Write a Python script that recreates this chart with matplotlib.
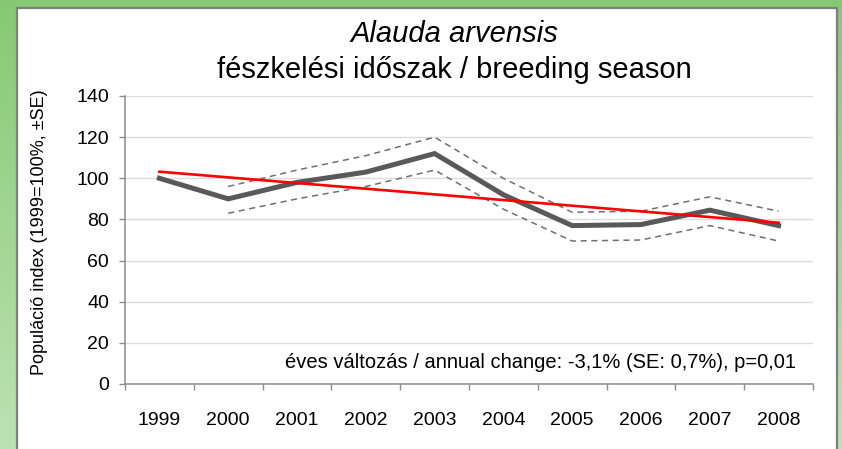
import matplotlib.pyplot as plt
import numpy as np
from matplotlib.patches import Rectangle
from matplotlib.colors import LinearSegmentedColormap

plt.rcParams['font.family'] = ['Liberation Sans', 'DejaVu Sans']

# data
years = ['1999', '2000', '2001', '2002', '2003', '2004', '2005', '2006', '2007', '2008']
index = [100, 90, 98, 103, 112, 92, 77, 77.5, 84.5, 77]
upper = [None, 96, 104, 111, 120, 100, 83.5, 84, 91, 84]
lower = [None, 83, 90, 96, 104, 85, 69.5, 70, 77, 69.5]
trend_start = 103.2
trend_end = 78.4
y_ticks = [0, 20, 40, 60, 80, 100, 120, 140]

W, H = 842, 449
fig = plt.figure(figsize=(W / 100, H / 100), dpi=100)

# green gradient frame behind the white panel
bg = fig.add_axes([0, 0, 1, 1], zorder=-10)
green = LinearSegmentedColormap.from_list('g', ['#86c974', '#bde2b3'])
bg.imshow(np.linspace(0, 1, 256).reshape(-1, 1), aspect='auto', cmap=green,
          extent=[0, 1, 0, 1], origin='upper')
bg.add_patch(Rectangle((17 / W, -0.05), (837 - 17) / W, (H - 8) / H + 0.05,
                       transform=bg.transAxes, facecolor='white',
                       edgecolor='#7f7f7f', linewidth=1.6))
bg.set_xlim(0, 1)
bg.set_ylim(0, 1)
bg.axis('off')

ax = fig.add_axes([125 / W, (H - 384) / H, (813 - 125) / W, (384 - 96) / H])
ax.set_facecolor('none')
x = np.arange(len(years))

ax.plot(x, index, color='#595959', lw=3.6, solid_joinstyle='miter', zorder=3)
ax.plot(x[1:], upper[1:], color='#707070', lw=1.1, ls=(0, (4, 3)), zorder=2)
ax.plot(x[1:], lower[1:], color='#707070', lw=1.1, ls=(0, (4, 3)), zorder=2)
ax.plot([x[0], x[-1]], [trend_start, trend_end], color='#ff0000', lw=1.9, zorder=4)

ax.set_ylim(0, 140)
ax.set_yticks(y_ticks)
ax.set_xlim(-0.5, len(years) - 0.5)
ax.set_xticks(x)
ax.set_xticklabels(years)
ax.set_xticks(np.arange(-0.5, len(years), 1), minor=True)
ax.tick_params(axis='x', which='major', length=0, pad=20, labelsize=14)
ax.tick_params(axis='x', which='minor', length=4.5, color='#8c8c8c', width=1)
ax.tick_params(axis='y', length=4.5, color='#8c8c8c', width=1, labelsize=14, pad=7)
ax.grid(axis='y', color='#dcdcdc', lw=1)
ax.set_axisbelow(True)
for s in ['top', 'right']:
    ax.spines[s].set_visible(False)
for s in ['left', 'bottom']:
    ax.spines[s].set_color('#8c8c8c')
    ax.spines[s].set_linewidth(1.1)

ax.text(0.976, 0.075, 'éves változás / annual change: -3,1% (SE: 0,7%), p=0,01',
        transform=ax.transAxes, ha='right', va='center', fontsize=14.5)

fig.text(40 / W, 1 - 232 / H, 'Populáció index (1999=100%, ±SE)', rotation=90,
         ha='center', va='center', fontsize=13)
fig.text(454 / W, 1 - 34 / H, 'Alauda arvensis', style='italic',
         ha='center', va='center', fontsize=21)
fig.text(454 / W, 1 - 70 / H, 'fészkelési időszak / breeding season',
         ha='center', va='center', fontsize=21)

fig.savefig('out.png', dpi=100)
